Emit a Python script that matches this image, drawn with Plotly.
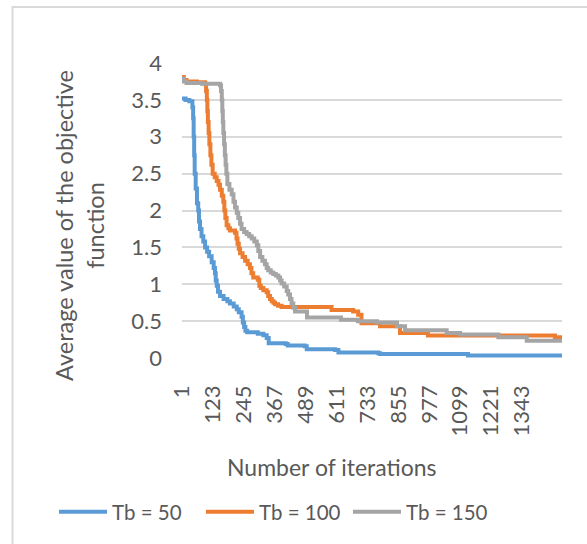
import plotly.graph_objects as go

# ---- data (step breakpoints: iteration at which a new value starts) ----
n_iter = 1500
tick_vals = [1 + 122 * k for k in range(12)]
tick_text = [str(v) for v in tick_vals]
y_ticks = [0, 0.5, 1, 1.5, 2, 2.5, 3, 3.5, 4]
y_tick_text = ["0", "0.5", "1", "1.5", "2", "2.5", "3", "3.5", "4"]

tb50_iter = [1, 15, 30, 42, 45, 47, 49, 51, 55, 60, 65, 68, 72, 78, 85, 92, 100, 108, 118, 126,
             131, 134, 138, 143, 151, 165, 180, 190, 205, 217, 225, 236, 241, 246, 251, 258,
             300, 322, 335, 343, 410, 418, 485, 493, 605, 618, 775, 782, 1129, 1500]
tb50_val = [3.52, 3.50, 3.48, 3.40, 3.25, 3.0, 2.75, 2.5, 2.3, 2.1, 2.0, 1.85, 1.75, 1.65, 1.58,
            1.50, 1.44, 1.38, 1.30, 1.22, 1.15, 1.05, 0.98, 0.90, 0.84, 0.80, 0.77, 0.74, 0.70,
            0.66, 0.62, 0.56, 0.48, 0.42, 0.37, 0.35, 0.33, 0.31, 0.27, 0.20, 0.19, 0.17, 0.16,
            0.12, 0.11, 0.075, 0.065, 0.055, 0.035, 0.035]

tb100_iter = [1, 8, 19, 60, 92, 96, 99, 101, 103, 106, 109, 113, 117, 122, 130, 138, 145, 151,
              158, 164, 168, 172, 177, 184, 190, 210, 216, 220, 225, 230, 240, 250, 260, 269,
              275, 282, 300, 306, 312, 322, 335, 341, 348, 355, 362, 368, 380, 394, 591, 676,
              696, 709, 782, 861, 971, 1472, 1500]
tb100_val = [3.81, 3.77, 3.75, 3.74, 3.72, 3.62, 3.50, 3.35, 3.20, 3.05, 2.90, 2.75, 2.62, 2.50,
             2.45, 2.40, 2.35, 2.28, 2.20, 2.12, 2.00, 1.90, 1.80, 1.76, 1.73, 1.70, 1.62, 1.55,
             1.48, 1.42, 1.37, 1.32, 1.27, 1.22, 1.15, 1.09, 1.06, 0.98, 0.95, 0.92, 0.89, 0.84,
             0.80, 0.77, 0.75, 0.73, 0.71, 0.69, 0.65, 0.63, 0.585, 0.47, 0.43, 0.34, 0.305,
             0.28, 0.28]

tb150_iter = [1, 8, 19, 80, 151, 155, 158, 160, 162, 164, 167, 170, 173, 176, 180, 188, 197,
              204, 210, 217, 223, 230, 236, 246, 256, 266, 276, 286, 296, 302, 309, 318, 328,
              335, 341, 351, 361, 371, 381, 388, 394, 404, 414, 420, 427, 433, 440, 447, 494,
              628, 695, 770, 849, 881, 1045, 1098, 1249, 1361, 1500]
tb150_val = [3.79, 3.75, 3.73, 3.72, 3.70, 3.62, 3.50, 3.35, 3.20, 3.05, 2.90, 2.75, 2.62, 2.50,
             2.36, 2.28, 2.22, 2.12, 2.04, 1.97, 1.90, 1.82, 1.75, 1.71, 1.68, 1.65, 1.62, 1.58,
             1.53, 1.45, 1.37, 1.32, 1.27, 1.22, 1.19, 1.16, 1.14, 1.12, 1.09, 1.05, 1.01, 0.97,
             0.91, 0.86, 0.80, 0.74, 0.68, 0.63, 0.55, 0.52, 0.50, 0.48, 0.43, 0.375, 0.34,
             0.32, 0.28, 0.235, 0.235]

series = [
    ("Tb = 50", tb50_iter, tb50_val, "#5B9BD5"),
    ("Tb = 100", tb100_iter, tb100_val, "#ED7D31"),
    ("Tb = 150", tb150_iter, tb150_val, "#A5A5A5"),
]

FONT = "Lato"
GRAY_TXT = "#595959"
W, H = 587, 544
ML, MR, MT, MB = 182, 25, 63, 186
PW, PH = W - ML - MR, H - MT - MB


def px_x(px):
    return (px - ML) / PW


def px_y(py):
    return (H - MB - py) / PH


fig = go.Figure()
for name, xs, ys, color in series:
    fig.add_trace(go.Scatter(x=xs, y=ys, mode="lines", name=name, line_shape="hv",
                             line=dict(color=color, width=4)))

fig.update_layout(
    width=W, height=H,
    margin=dict(l=ML, r=MR, t=MT, b=MB),
    paper_bgcolor="white", plot_bgcolor="white",
    font=dict(family=FONT, color=GRAY_TXT, size=21),
    showlegend=True,
    legend=dict(orientation="h", x=px_x(54), xanchor="left", y=px_y(512), yanchor="middle",
                itemwidth=48, entrywidth=84, entrywidthmode="pixels",
                font=dict(size=20.5, color=GRAY_TXT), bgcolor="rgba(0,0,0,0)"),
    xaxis=dict(range=[1, n_iter], tickmode="array", tickvals=tick_vals, ticktext=tick_text,
               tickangle=-90, showgrid=False, zeroline=False, showline=False, ticks="",
               ticklabelstandoff=22, tickfont=dict(size=22, color=GRAY_TXT)),
    yaxis=dict(range=[0, 4], tickmode="array", tickvals=y_ticks, ticktext=y_tick_text,
               showgrid=True, gridcolor="#D9D9D9", gridwidth=1.5, zeroline=False,
               showline=False, ticks="", ticklabelstandoff=19,
               tickfont=dict(size=22, color=GRAY_TXT)),
    annotations=[
        dict(text="Average value of the objective<br>function", textangle=-90,
             xref="paper", yref="paper", x=px_x(80), y=px_y(226), xanchor="center",
             yanchor="middle", showarrow=False, font=dict(size=23.5, color=GRAY_TXT, family=FONT)),
        dict(text="Number of iterations", xref="paper", yref="paper", x=px_x(332),
             y=px_y(467), xanchor="center", yanchor="middle", showarrow=False,
             font=dict(size=23, color=GRAY_TXT, family=FONT)),
    ],
    shapes=[
        dict(type="rect", xref="paper", yref="paper", x0=px_x(12.5), x1=px_x(600),
             y0=px_y(570), y1=px_y(7), line=dict(color="#D9D9D9", width=2), layer="below"),
    ],
)

fig.write_html("out.html", config={"displayModeBar": False},
               post_script="document.body.style.margin='0';")
